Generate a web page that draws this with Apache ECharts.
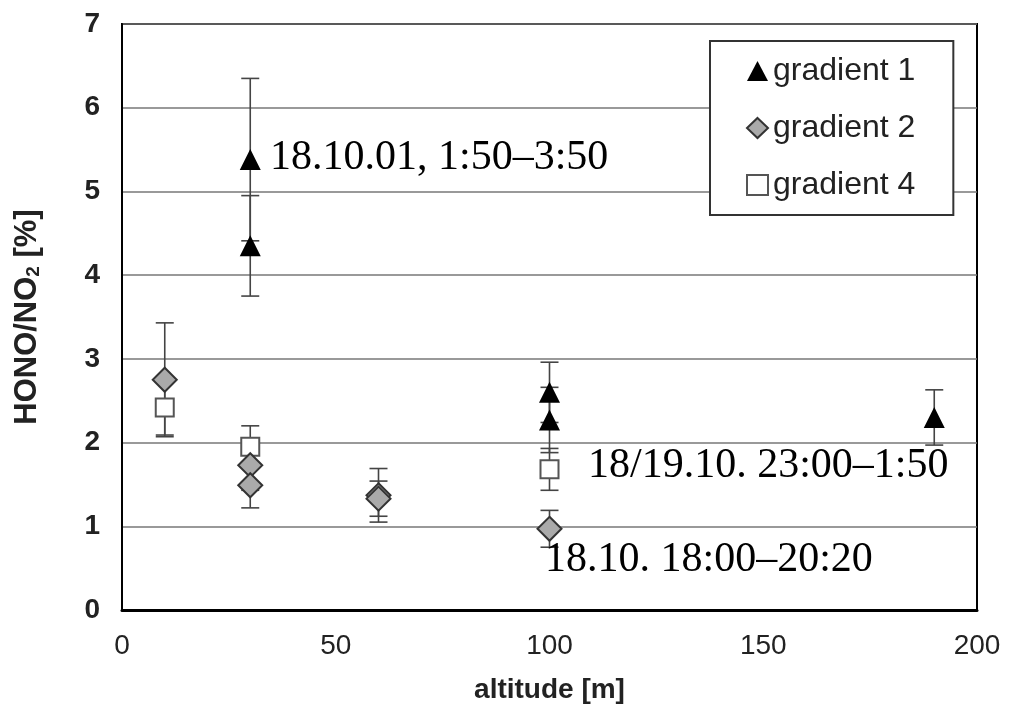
<!DOCTYPE html>
<html>
<head>
<meta charset="utf-8">
<script src="https://cdn.jsdelivr.net/npm/echarts@6/dist/echarts.min.js"></script>
<style>html,body{margin:0;padding:0;background:#fff;}#chart{width:1009px;height:715px;}</style>
</head>
<body>
<div id="chart"></div>
<script>
// x: altitude [m], y: HONO/NO2 [%], e: error (±)
const gradient1 = [[30, 5.38, 0.97], [30, 4.35, 0.60], [100, 2.60, 0.36], [100, 2.27, 0.39], [190, 2.30, 0.33]];
const gradient2 = [[10, 2.75, 0.68], [30, 1.73, 0.30], [30, 1.49, 0.27], [60, 1.37, 0.32], [60, 1.33, 0.21], [100, 0.97, 0.22]];
const gradient4 = [[10, 2.42, 0.33], [30, 1.95, 0.25], [100, 1.68, 0.25]];
const xTicks = [0, 50, 100, 150, 200];
const yTicks = [0, 1, 2, 3, 4, 5, 6, 7];
const notes = [
  {text: '18.10.01, 1:50\u20133:50', x: 270, y: 158},
  {text: '18/19.10. 23:00\u20131:50', x: 588, y: 466},
  {text: '18.10. 18:00\u201320:20', x: 545, y: 560}
];

const chart = echarts.init(document.getElementById('chart'));

function errSeries(data, z) {
  return {
    type: 'custom',
    z: z,
    silent: true,
    data: data.map(d => [d[0], d[1] - d[2], d[1] + d[2]]),
    renderItem: function (params, api) {
      const lo = api.coord([api.value(0), api.value(1)]);
      const hi = api.coord([api.value(0), api.value(2)]);
      const hw = 9;
      const st = {stroke: '#444', lineWidth: 1.6};
      return {
        type: 'group',
        children: [
          {type: 'line', shape: {x1: lo[0], y1: lo[1], x2: hi[0], y2: hi[1]}, style: st},
          {type: 'line', shape: {x1: lo[0] - hw, y1: lo[1], x2: lo[0] + hw, y2: lo[1]}, style: st},
          {type: 'line', shape: {x1: hi[0] - hw, y1: hi[1], x2: hi[0] + hw, y2: hi[1]}, style: st}
        ]
      };
    }
  };
}

chart.setOption({
  animation: false,
  backgroundColor: '#fff',
  grid: {left: 122, right: 32, top: 24, bottom: 105, show: true, borderColor: '#000', borderWidth: 2, backgroundColor: 'transparent'},
  xAxis: {
    type: 'value', min: 0, max: 200, interval: 50,
    axisLine: {show: true, onZero: false, lineStyle: {color: '#000', width: 3}},
    axisTick: {show: false},
    splitLine: {show: false},
    axisLabel: {fontFamily: 'Liberation Sans', fontSize: 28, color: '#222', margin: 22,
      formatter: v => xTicks.includes(v) ? String(v) : ''},
    name: 'altitude [m]', nameLocation: 'middle', nameGap: 66,
    nameTextStyle: {fontFamily: 'Liberation Sans', fontSize: 28, fontWeight: 'bold', color: '#222'}
  },
  yAxis: {
    type: 'value', min: 0, max: 7, interval: 1,
    axisLine: {show: true, onZero: false, lineStyle: {color: '#000', width: 2}},
    axisTick: {show: false},
    splitLine: {show: true, lineStyle: {color: '#777', width: 1.5}},
    axisLabel: {fontFamily: 'Liberation Sans', fontSize: 28, fontWeight: 'bold', color: '#222', margin: 22,
      formatter: v => yTicks.includes(v) ? String(v) : ''},
    name: '{a|HONO/NO}{s|2}{a| [%]}', nameLocation: 'middle', nameGap: 79, nameRotate: 90,
    nameTextStyle: {
      rich: {
        a: {fontFamily: 'Liberation Sans', fontSize: 31, fontWeight: 'bold', color: '#222'},
        s: {fontFamily: 'Liberation Sans', fontSize: 19, fontWeight: 'bold', color: '#222', verticalAlign: 'bottom', padding: [13, 0, 0, 0]}
      }
    }
  },
  legend: {
    data: ['gradient 1', 'gradient 2', 'gradient 4'],
    orient: 'vertical', left: 710, top: 41,
    padding: [12, 38, 12, 36],
    itemGap: 21, itemWidth: 21, itemHeight: 20, itemTextGap: 14,
    backgroundColor: '#fff', borderColor: '#333', borderWidth: 2, borderRadius: 0,
    textStyle: {fontFamily: 'Liberation Sans', fontSize: 32, color: '#222', lineHeight: 36},
    selectedMode: false
  },
  series: [
    errSeries(gradient4, 2),
    errSeries(gradient2, 3),
    errSeries(gradient1, 4),
    {name: 'gradient 4', type: 'scatter', z: 5, symbol: 'rect', symbolSize: 18,
      itemStyle: {color: '#fff', borderColor: '#555', borderWidth: 2, opacity: 1},
      data: gradient4.map(d => [d[0], d[1]])},
    {name: 'gradient 2', type: 'scatter', z: 6, symbol: 'diamond', symbolSize: 24,
      itemStyle: {color: '#aaa', borderColor: '#333', borderWidth: 2, opacity: 1},
      data: gradient2.map(d => [d[0], d[1]])},
    {name: 'gradient 1', type: 'scatter', z: 7, symbol: 'triangle', symbolSize: 21,
      itemStyle: {color: '#000', opacity: 1},
      data: gradient1.map(d => [d[0], d[1]])}
  ],
  graphic: notes.map(n => ({
    type: 'text', z: 100,
    style: {text: n.text, x: n.x, y: n.y, fontFamily: 'Liberation Serif', fontSize: 42, fill: '#000', textVerticalAlign: 'middle', textAlign: 'left'}
  }))
});
</script>
</body>
</html>
